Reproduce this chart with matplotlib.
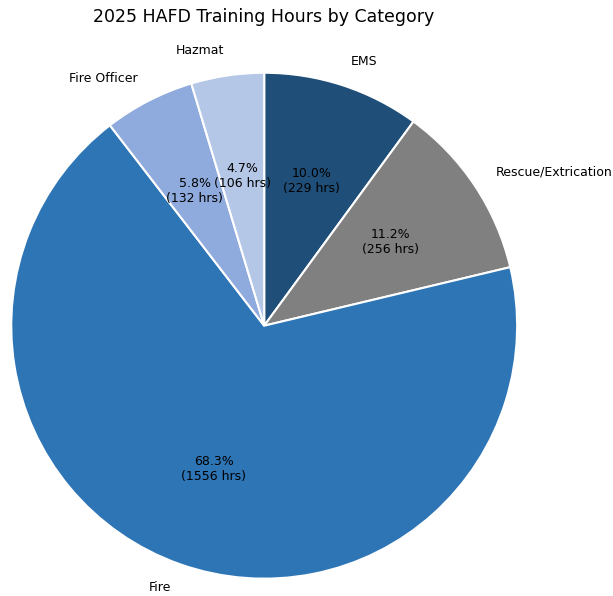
import matplotlib
matplotlib.use("Agg")
import matplotlib.pyplot as plt

categories = ["EMS", "Rescue/Extrication", "Fire", "Fire Officer", "Hazmat"]
hours = [229, 256, 1556, 132, 106]
colors = ["#1f4e79", "#808080", "#2e75b6", "#8faadc", "#b4c7e7"]


def fmt(pct):
    total = sum(hours)
    return f"{pct:.1f}%\n({int(round(pct * total / 100))} hrs)"


fig = plt.figure(figsize=(6.13, 5.96), dpi=100)
ax = fig.add_axes([-0.085, -0.077, 1.032, 1.061])
ax.pie(hours, labels=categories, colors=colors, autopct=fmt,
       startangle=90, counterclock=False,
       wedgeprops={"edgecolor": "white", "linewidth": 1.5},
       textprops={"fontsize": 9})
ax.set_aspect("equal")
fig.text(264 / 613, 1 - 17 / 596, "2025 HAFD Training Hours by Category",
         ha="center", va="center", fontsize=12.5)

fig.savefig("out.png", dpi=100)
